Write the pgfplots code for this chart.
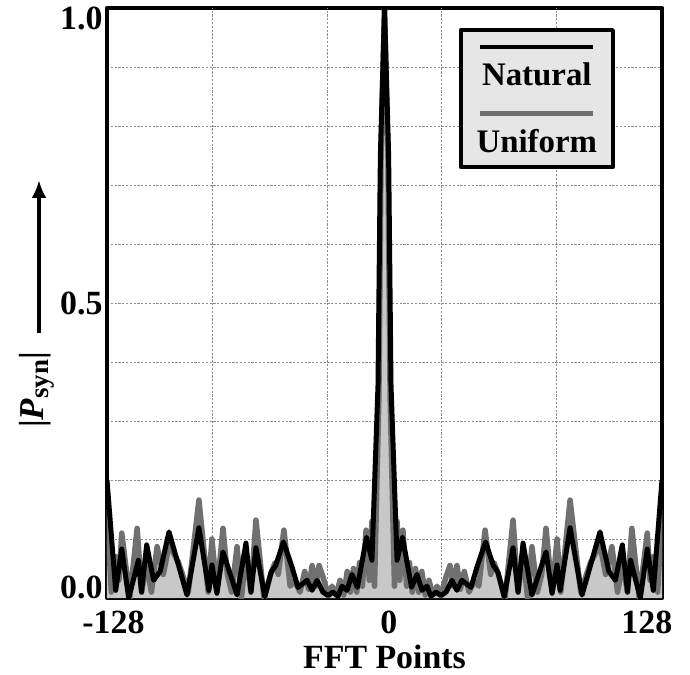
\documentclass[border=0pt]{standalone}
\usepackage{pgfplots}
\pgfplotsset{compat=1.18}
\usepackage{pgfplotstable}
\usetikzlibrary{arrows.meta}
\usepackage{fontspec}
\setmainfont{Liberation Serif}
\definecolor{unifgray}{HTML}{707070}
\definecolor{fillgray}{HTML}{C8C8C8}
\definecolor{leggray}{HTML}{E6E6E6}
\definecolor{gridgray}{HTML}{8C8C8C}

\pgfplotstableread{
x y
-128.0 0.200
-124.0 0.013
-121.2 0.083
-118.0 0.000
-113.5 0.064
-112.1 0.010
-109.7 0.090
-106.5 0.030
-103.5 0.045
-99.4 0.112
-91.1 0.005
-85.6 0.119
-81.0 0.013
-79.6 0.056
-77.3 0.008
-74.5 0.078
-68.0 0.005
-63.9 0.093
-61.6 0.010
-59.3 0.085
-55.2 0.002
-52.3 0.044
-50.2 0.055
-46.6 0.095
-42.7 0.053
-39.9 0.018
-35.7 0.030
-33.4 0.013
-31.1 0.030
-28.4 0.010
-26.0 0.004
-23.8 0.010
-21.4 0.003
-19.6 0.020
-17.3 0.013
-15.0 0.040
-12.5 0.018
-8.3 0.103
-5.8 0.064
-3.0 0.360
-1.9 0.750
0.0 1.000
1.9 0.750
3.0 0.360
5.8 0.064
8.3 0.103
12.5 0.018
15.0 0.040
17.3 0.013
19.6 0.020
21.4 0.003
23.8 0.010
26.0 0.004
28.4 0.010
31.1 0.030
33.4 0.013
35.7 0.030
39.9 0.018
42.7 0.053
46.6 0.095
50.2 0.055
52.3 0.044
55.2 0.002
59.3 0.085
61.6 0.010
63.9 0.093
68.0 0.005
74.5 0.078
77.3 0.008
79.6 0.056
81.0 0.013
85.6 0.119
91.1 0.005
99.4 0.112
103.5 0.045
106.5 0.030
109.7 0.090
112.1 0.010
113.5 0.064
118.0 0.000
121.2 0.083
124.0 0.013
128.0 0.200
}\natural

\pgfplotstableread{
x y
-128.0 0.150
-126.0 0.010
-124.0 0.070
-122.5 0.030
-121.2 0.110
-117.5 0.000
-114.1 0.118
-112.0 0.010
-110.0 0.060
-107.5 0.010
-104.9 0.087
-102.0 0.040
-99.4 0.090
-95.0 0.060
-90.5 0.010
-85.6 0.166
-81.3 0.010
-79.6 0.100
-77.3 0.010
-74.5 0.118
-72.5 0.040
-70.5 0.010
-68.0 0.087
-66.0 0.000
-63.9 0.075
-61.6 0.010
-59.3 0.132
-55.6 0.000
-52.5 0.040
-50.5 0.060
-49.0 0.040
-46.4 0.115
-43.5 0.020
-41.5 0.030
-39.0 0.010
-36.8 0.045
-35.0 0.015
-33.4 0.055
-31.8 0.020
-30.2 0.055
-28.3 0.035
-26.0 0.005
-24.2 0.020
-22.3 0.005
-20.5 0.030
-18.8 0.005
-17.2 0.045
-15.8 0.010
-14.3 0.050
-12.8 0.010
-11.5 0.060
-10.2 0.020
-8.5 0.115
-7.0 0.030
-5.8 0.130
-4.6 0.020
-2.6 0.340
-1.6 0.750
0.0 1.000
1.6 0.750
2.6 0.340
4.6 0.020
5.8 0.130
7.0 0.030
8.5 0.115
10.2 0.020
11.5 0.060
12.8 0.010
14.3 0.050
15.8 0.010
17.2 0.045
18.8 0.005
20.5 0.030
22.3 0.005
24.2 0.020
26.0 0.005
28.3 0.035
30.2 0.055
31.8 0.020
33.4 0.055
35.0 0.015
36.8 0.045
39.0 0.010
41.5 0.030
43.5 0.020
46.4 0.115
49.0 0.040
50.5 0.060
52.5 0.040
55.6 0.000
59.3 0.132
61.6 0.010
63.9 0.075
66.0 0.000
68.0 0.087
70.5 0.010
72.5 0.040
74.5 0.118
77.3 0.010
79.6 0.100
81.3 0.010
85.6 0.166
90.5 0.010
95.0 0.060
99.4 0.090
102.0 0.040
104.9 0.087
107.5 0.010
110.0 0.060
112.0 0.010
114.1 0.118
117.5 0.000
121.2 0.110
122.5 0.030
124.0 0.070
126.0 0.010
128.0 0.150
}\uniform

\begin{document}
\begin{tikzpicture}
\begin{axis}[
  scale only axis,
  width=555bp, height=590bp,
  xmin=-128, xmax=128,
  ymin=0, ymax=1,
  axis line style={line width=4.5bp},
  xtick={-125,2,121},
  xticklabels={-128,0,128},
  ytick={0.017,0.5,0.983},
  yticklabels={0.0,0.5,1.0},
  major tick length=0pt,
  minor tick length=0pt,
  ticklabel style={font=\fontsize{34}{34}\selectfont\bfseries},
  xticklabel style={yshift=-9bp},
  yticklabel style={xshift=-1bp},
  minor ytick={0,0.1,0.2,0.3,0.4,0.5,0.6,0.7,0.8,0.9,1},
  yminorgrids,
  minor grid style={gridgray, line width=0.9bp, dash pattern=on 2.2bp off 1.6bp},
  extra x ticks={-79.2,-26.4,26.4,79.2},
  extra x tick labels={},
  extra x tick style={xmajorgrids, major grid style={gridgray, line width=0.9bp, dash pattern=on 2.2bp off 1.6bp}},
  xlabel={FFT Points},
  xlabel style={font=\fontsize{34}{34}\selectfont\bfseries, yshift=-5bp},
  line join=round,
]
\addplot[draw=none, fill=fillgray] table[x=x,y=y] {\uniform} \closedcycle;
\addplot[unifgray, line width=5.5bp] table[x=x,y=y] {\uniform};
\addplot[black, line width=5bp] table[x=x,y=y] {\natural};
\node[draw=black, line width=4bp, fill=leggray, anchor=north east, inner sep=0pt,
      minimum width=152bp, minimum height=137bp, align=center,
      font=\fontsize{33}{33}\selectfont\bfseries]
  at (rel axis cs:0.915,0.966)
  {\textcolor{black}{\rule{113bp}{4bp}}\\[4bp]Natural\\[-2.5bp]\textcolor{unifgray}{\rule{113bp}{5bp}}\\[3.5bp]Uniform};
\end{axis}
\node[rotate=90, font=\fontsize{35}{35}\selectfont\bfseries]
  at ([shift={(-70bp,208bp)}]current axis.south west)
  {|\textit{P}\raisebox{-0.3ex}{\fontsize{27}{27}\selectfont syn}|};
\draw[line width=4bp, -{Latex[length=18bp,width=15bp]}]
  ([shift={(-68bp,265bp)}]current axis.south west) -- ([shift={(-68bp,418bp)}]current axis.south west);
\pgfresetboundingbox
\path ([shift={(-107bp,-77bp)}]current axis.south west) rectangle ([shift={(28bp,8bp)}]current axis.north east);
\end{tikzpicture}
\end{document}
